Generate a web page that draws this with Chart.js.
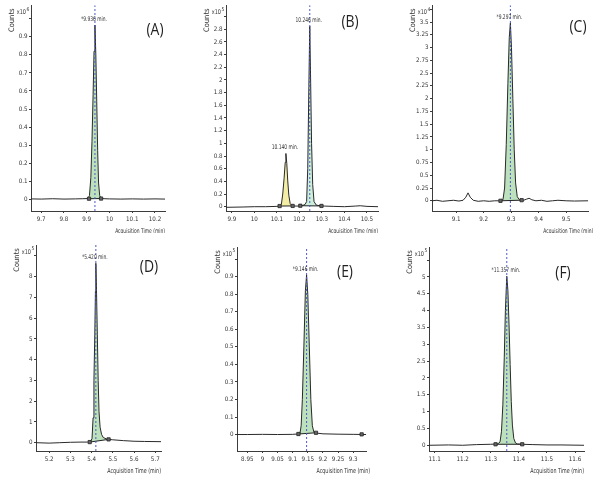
<!DOCTYPE html>
<html>
<head>
<meta charset="utf-8">
<title>Chromatograms</title>
<script src="https://cdn.jsdelivr.net/npm/chart.js@4.4.1/dist/chart.umd.min.js"></script>
<style>
  html, body { margin: 0; padding: 0; background: #fff; }
  #figure { position: relative; width: 601px; height: 484px; overflow: hidden; background: #fff; }
  #figure canvas { position: absolute; }
</style>
</head>
<body>
<div id="figure">
  <canvas id="panelA"></canvas>
  <canvas id="panelB"></canvas>
  <canvas id="panelC"></canvas>
  <canvas id="panelD"></canvas>
  <canvas id="panelE"></canvas>
  <canvas id="panelF"></canvas>
</div>
<script>
// ---- (A) ----
const timesA = [9.655, 9.70, 9.75, 9.80, 9.85, 9.88, 9.905, 9.912, 9.918, 9.923, 9.928, 9.932, 9.936, 9.940, 9.944, 9.948, 9.952, 9.957, 9.963, 9.98, 10.0, 10.05, 10.1, 10.15, 10.2, 10.244];
const countsA = [0.002, 0.001, 0.003, 0.001, 0.002, 0.003, 0.004, 0.02, 0.12, 0.32, 0.58, 0.82, 0.965, 0.80, 0.54, 0.27, 0.09, 0.02, 0.004, 0.003, 0.002, 0.001, 0.002, 0.001, 0.002, 0.001];
const markerTimesA = [9.91, 9.963];
const markerCountsA = [0.003, 0.004];
const xTicksA = [9.7, 9.8, 9.9, 10, 10.1, 10.2];
const yTicksA = [0, 0.1, 0.2, 0.3, 0.4, 0.5, 0.6, 0.7, 0.8, 0.9, 1];

// ---- (B) ----
const timesB = [9.874, 9.95, 10.0, 10.05, 10.1, 10.112, 10.12, 10.126, 10.132, 10.137, 10.140, 10.144, 10.148, 10.153, 10.159, 10.167, 10.18, 10.2, 10.215, 10.225, 10.232, 10.237, 10.242, 10.246, 10.250, 10.254, 10.259, 10.265, 10.275, 10.29, 10.31, 10.35, 10.4, 10.45, 10.47, 10.5, 10.549];
const countsB = [-0.01, -0.005, 0.0, 0.0, 0.005, 0.01, 0.04, 0.2, 0.45, 0.7, 0.84, 0.68, 0.42, 0.18, 0.05, 0.015, 0.01, 0.01, 0.02, 0.035, 0.08, 0.6, 1.9, 2.85, 1.95, 1.0, 0.35, 0.08, 0.025, 0.015, 0.01, 0.005, 0.0, 0.01, 0.015, 0.005, 0.0];
const markerTimesB = [10.112, 10.17, 10.204, 10.298];
const markerCountsB = [0.01, 0.012, 0.015, 0.012];
const xTicksB = [9.9, 10, 10.1, 10.2, 10.3, 10.4, 10.5];
const yTicksB = [0, 0.2, 0.4, 0.6, 0.8, 1, 1.2, 1.4, 1.6, 1.8, 2, 2.2, 2.4, 2.6, 2.8, 3];

// ---- (C) ----
const timesC = [9.012, 9.03, 9.05, 9.07, 9.09, 9.11, 9.125, 9.135, 9.143, 9.151, 9.162, 9.18, 9.2, 9.22, 9.24, 9.255, 9.27, 9.276, 9.282, 9.288, 9.293, 9.297, 9.301, 9.306, 9.311, 9.316, 9.322, 9.33, 9.345, 9.355, 9.365, 9.375, 9.39, 9.41, 9.43, 9.45, 9.47, 9.5, 9.53, 9.58];
const countsC = [0.0, 0.01, -0.01, 0.0, 0.01, -0.005, 0.01, 0.07, 0.155, 0.07, 0.01, -0.01, 0.0, -0.01, 0.0, 0.0, 0.02, 0.25, 1.1, 2.3, 3.2, 3.48, 3.0, 2.0, 1.0, 0.35, 0.08, 0.02, 0.01, 0.03, 0.05, 0.02, 0.0, 0.01, -0.01, 0.0, 0.01, 0.0, -0.005, 0.0];
const markerTimesC = [9.261, 9.338];
const markerCountsC = [0.0, 0.012];
const xTicksC = [9.1, 9.2, 9.3, 9.4, 9.5];
const yTicksC = [0, 0.25, 0.5, 0.75, 1, 1.25, 1.5, 1.75, 2, 2.25, 2.5, 2.75, 3, 3.25, 3.5, 3.75];

// ---- (D) ----
const timesD = [5.138, 5.2, 5.25, 5.3, 5.35, 5.38, 5.395, 5.402, 5.407, 5.411, 5.415, 5.418, 5.420, 5.423, 5.427, 5.431, 5.435, 5.44, 5.447, 5.455, 5.47, 5.48, 5.5, 5.55, 5.6, 5.65, 5.727];
const countsD = [0.0, -0.02, 0.0, 0.02, 0.03, 0.03, 0.06, 0.2, 1.2, 3.0, 5.2, 7.3, 8.65, 7.4, 5.2, 3.0, 1.5, 0.75, 0.4, 0.25, 0.18, 0.16, 0.14, 0.1, 0.07, 0.06, 0.05];
const markerTimesD = [5.391, 5.48];
const markerCountsD = [0.03, 0.16];
const xTicksD = [5.2, 5.3, 5.4, 5.5, 5.6, 5.7];
const yTicksD = [0, 1, 2, 3, 4, 5, 6, 7, 8, 9];

// ---- (E) ----
const timesE = [8.916, 8.95, 9.0, 9.05, 9.1, 9.115, 9.124, 9.128, 9.132, 9.137, 9.142, 9.146, 9.150, 9.155, 9.160, 9.165, 9.170, 9.18, 9.2, 9.25, 9.3, 9.343];
const countsE = [0.0, 0.0, 0.001, 0.0, 0.001, 0.003, 0.005, 0.05, 0.2, 0.5, 0.82, 0.91, 0.8, 0.5, 0.2, 0.05, 0.015, 0.008, 0.004, 0.002, 0.001, 0.0];
const markerTimesE = [9.119, 9.177, 9.328];
const markerCountsE = [0.003, 0.01, 0.001];
const xTicksE = [8.95, 9, 9.05, 9.1, 9.15, 9.2, 9.25, 9.3];
const yTicksE = [0, 0.1, 0.2, 0.3, 0.4, 0.5, 0.6, 0.7, 0.8, 0.9, 1];

// ---- (F) ----
const timesF = [11.08, 11.15, 11.2, 11.25, 11.3, 11.325, 11.333, 11.338, 11.343, 11.348, 11.352, 11.357, 11.361, 11.365, 11.369, 11.373, 11.377, 11.382, 11.388, 11.395, 11.41, 11.45, 11.5, 11.55, 11.632];
const countsF = [0.0, 0.01, 0.0, 0.02, 0.03, 0.04, 0.1, 0.4, 1.2, 2.6, 4.0, 5.02, 4.6, 3.6, 2.4, 1.3, 0.6, 0.2, 0.07, 0.04, 0.03, 0.02, 0.01, 0.01, 0.0];
const markerTimesF = [11.317, 11.412];
const markerCountsF = [0.03, 0.03];
const xTicksF = [11.1, 11.2, 11.3, 11.4, 11.5, 11.6];
const yTicksF = [0, 0.5, 1, 1.5, 2, 2.5, 3, 3.5, 4, 4.5, 5, 5.5];

const narrowFont = "'Liberation Sans Narrow', 'DejaVu Sans Condensed', sans-serif";
const axisColor = "#3c3c3c";
const traceColor = "#2a2a2a";
const textColor = "#333";
const greenFill = "rgba(160, 212, 160, 0.7)";
const paleGreenFill = "rgba(200, 236, 214, 0.9)";
const yellowFill = "rgba(243, 236, 160, 0.95)";
const rtLineColor = "#4b5cc4";

// squeezes text horizontally so the small annotations stay as narrow as the axis labels
function squeezedText(ctx, text, x, y, sx) {
  ctx.save();
  ctx.translate(x, y);
  ctx.scale(sx, 1);
  ctx.fillText(text, 0, 0);
  ctx.restore();
}

// text around each plot: peak labels, axis titles, the panel letter
const panelDecor = {
  id: "panelDecor",
  afterDraw(chart, args, opts) {
    const { ctx, chartArea, scales } = chart;
    ctx.save();
    ctx.fillStyle = textColor;
    ctx.textBaseline = "middle";

    ctx.font = `6.5px ${narrowFont}`;
    ctx.textAlign = "center";
    opts.labels.forEach((l) => {
      const x = scales.x.getPixelForValue(l.time) - 1;
      const y = scales.y.getPixelForValue(l.count) - 6;
      squeezedText(ctx, l.text, x, y, 0.75);
    });

    ctx.save();
    ctx.translate(chartArea.left - 19, chartArea.top + 15);
    ctx.rotate(-Math.PI / 2);
    ctx.font = `7.5px ${narrowFont}`;
    ctx.fillText("Counts", 0, 0);
    ctx.restore();

    ctx.textAlign = "right";
    ctx.font = `6.5px ${narrowFont}`;
    squeezedText(ctx, "x10", chartArea.left - 5, chartArea.top + 7, 0.85);
    ctx.textAlign = "left";
    ctx.font = `5px ${narrowFont}`;
    ctx.fillText(opts.exponent, chartArea.left - 4.5, chartArea.top + 4);

    ctx.textAlign = "right";
    ctx.font = `${opts.titleSize}px ${narrowFont}`;
    squeezedText(ctx, "Acquisition Time (min)", chartArea.right + opts.titleShift, chartArea.bottom + 20, 0.76);

    ctx.textAlign = "center";
    ctx.font = "17px 'Open Sans', sans-serif";
    ctx.fillStyle = "#222";
    squeezedText(ctx, opts.tag, opts.tagX, opts.tagY, 0.82);
    ctx.restore();
  },
};

function buildPanel(id, p) {
  const canvas = document.getElementById(id);
  canvas.width = p.cell.w;
  canvas.height = p.cell.h;
  canvas.style.left = p.cell.x + "px";
  canvas.style.top = p.cell.y + "px";
  canvas.style.width = p.cell.w + "px";
  canvas.style.height = p.cell.h + "px";

  const trace = p.times.map((t, i) => ({ x: t, y: p.counts[i] }));
  const markers = p.markerTimes.map((t, i) => ({ x: t, y: p.markerCounts[i] }));

  const datasets = [
    { data: trace, borderColor: traceColor, borderWidth: 1, fill: false, order: 2 },
    {
      data: markers, showLine: false, pointStyle: "rect", pointRadius: 2.3,
      pointBackgroundColor: "#666", pointBorderColor: "#222", pointBorderWidth: 0.8, order: 0,
    },
  ];
  p.rtLines.forEach((rt) => {
    datasets.push({
      data: [{ x: rt, y: p.yRange[0] }, { x: rt, y: p.yRange[1] }],
      borderColor: rtLineColor, borderWidth: 1, borderDash: [2, 2], fill: false, order: 1,
    });
  });
  p.peaks.forEach((pk) => {
    const a = markers[pk.from];
    const b = markers[pk.to];
    const baseIndex = datasets.length;
    datasets.push({ data: [a, b], borderColor: "#222", borderWidth: 1, fill: false, order: 3 });
    const inner = trace.filter((pt) => pt.x > a.x && pt.x < b.x);
    datasets.push({
      data: [a, ...inner, b], borderWidth: 0, borderColor: "rgba(0,0,0,0)",
      backgroundColor: pk.color, fill: baseIndex, order: 4,
    });
  });

  const areaLeft = p.area.left - p.cell.x;
  const areaTop = p.area.top - p.cell.y;
  const areaRight = p.area.right - p.cell.x;
  const areaBottom = p.area.bottom - p.cell.y;

  new Chart(canvas, {
    type: "line",
    data: { datasets },
    options: {
      responsive: false,
      animation: false,
      devicePixelRatio: 1,
      layout: { padding: { left: 0, top: areaTop, right: p.cell.w - areaRight, bottom: 0 } },
      elements: { point: { radius: 0 }, line: { tension: 0 } },
      plugins: {
        legend: { display: false },
        tooltip: { enabled: false },
        panelDecor: {
          labels: p.labels, exponent: p.exponent, tag: p.tag, tagX: p.tagX, tagY: p.tagY,
          titleShift: p.titleShift, titleSize: p.titleSize,
        },
      },
      scales: {
        x: {
          type: "linear",
          min: p.xRange[0],
          max: p.xRange[1],
          afterFit: (s) => { s.height = p.cell.h - areaBottom; },
          afterBuildTicks: (s) => { s.ticks = p.xTicks.map((v) => ({ value: v })); },
          grid: { drawOnChartArea: false, drawTicks: true, tickLength: 2, color: axisColor },
          border: { color: axisColor, width: 1 },
          ticks: {
            autoSkip: false, maxRotation: 0, padding: 3, color: textColor,
            font: { family: narrowFont, size: 6.2 },
            callback: (v) => String(v),
          },
        },
        y: {
          type: "linear",
          min: p.yRange[0],
          max: p.yRange[1],
          afterFit: (s) => { s.width = areaLeft; },
          afterBuildTicks: (s) => { s.ticks = p.yTicks.map((v) => ({ value: v })); },
          grid: { drawOnChartArea: false, drawTicks: true, tickLength: 2, color: axisColor },
          border: { color: axisColor, width: 1 },
          ticks: {
            autoSkip: false, padding: 1.5, color: textColor,
            font: { family: narrowFont, size: 6.2 },
            // the top tick carries no number; the exponent sits beside it
            callback: (v) => (v === p.yTicks[p.yTicks.length - 1] ? "" : String(v)),
          },
        },
      },
    },
    plugins: [panelDecor],
  });
}

buildPanel("panelA", {
  cell: { x: 0, y: 0, w: 195, h: 233 },
  area: { left: 31, top: 5, right: 165, bottom: 211 },
  xRange: [9.655, 10.244], yRange: [-0.065, 1.075],
  times: timesA, counts: countsA, markerTimes: markerTimesA, markerCounts: markerCountsA,
  xTicks: xTicksA, yTicks: yTicksA,
  rtLines: [9.936],
  peaks: [{ from: 0, to: 1, color: greenFill }],
  labels: [{ time: 9.936, count: 0.965, text: "*9.936 min." }],
  exponent: "6", tag: "(A)", tagX: 155, tagY: 30, titleShift: 0, titleSize: 6.5,
});

buildPanel("panelB", {
  cell: { x: 195, y: 0, w: 195, h: 233 },
  area: { left: 226, top: 5, right: 378, bottom: 211 },
  xRange: [9.874, 10.549], yRange: [-0.068, 3.18],
  times: timesB, counts: countsB, markerTimes: markerTimesB, markerCounts: markerCountsB,
  xTicks: xTicksB, yTicks: yTicksB,
  rtLines: [10.246],
  peaks: [{ from: 0, to: 1, color: yellowFill }, { from: 2, to: 3, color: paleGreenFill }],
  labels: [
    { time: 10.246, count: 2.85, text: "10.246 min." },
    { time: 10.140, count: 0.84, text: "10.140 min." },
  ],
  exponent: "5", tag: "(B)", tagX: 155, tagY: 22, titleShift: 0, titleSize: 6.5,
});

buildPanel("panelC", {
  cell: { x: 390, y: 0, w: 203, h: 233 },
  area: { left: 432, top: 3, right: 593, bottom: 211 },
  xRange: [9.012, 9.58], yRange: [-0.2, 3.83],
  times: timesC, counts: countsC, markerTimes: markerTimesC, markerCounts: markerCountsC,
  xTicks: xTicksC, yTicks: yTicksC,
  rtLines: [9.297],
  peaks: [{ from: 0, to: 1, color: greenFill }],
  labels: [{ time: 9.297, count: 3.48, text: "*9.297 min." }],
  exponent: "4", tag: "(C)", tagX: 188, tagY: 27, titleShift: 5, titleSize: 6.5,
});

buildPanel("panelD", {
  cell: { x: 0, y: 233, w: 195, h: 251 },
  area: { left: 36, top: 245, right: 161, bottom: 451 },
  xRange: [5.138, 5.727], yRange: [-0.4, 9.53],
  times: timesD, counts: countsD, markerTimes: markerTimesD, markerCounts: markerCountsD,
  xTicks: xTicksD, yTicks: yTicksD,
  rtLines: [5.42],
  peaks: [{ from: 0, to: 1, color: greenFill }],
  labels: [{ time: 5.42, count: 8.65, text: "*5.420 min." }],
  exponent: "5", tag: "(D)", tagX: 149, tagY: 34, titleShift: 0, titleSize: 7,
});

buildPanel("panelE", {
  cell: { x: 195, y: 233, w: 176, h: 251 },
  area: { left: 237, top: 247, right: 371, bottom: 451 },
  xRange: [8.916, 9.343], yRange: [-0.094, 1.07],
  times: timesE, counts: countsE, markerTimes: markerTimesE, markerCounts: markerCountsE,
  xTicks: xTicksE, yTicks: yTicksE,
  rtLines: [9.146],
  peaks: [{ from: 0, to: 1, color: greenFill }],
  labels: [{ time: 9.146, count: 0.91, text: "*9.146 min." }],
  exponent: "5", tag: "(E)", tagX: 150, tagY: 39, titleShift: 4, titleSize: 7,
});

buildPanel("panelF", {
  cell: { x: 390, y: 233, w: 211, h: 251 },
  area: { left: 429, top: 247, right: 584, bottom: 451 },
  xRange: [11.08, 11.632], yRange: [-0.17, 5.89],
  times: timesF, counts: countsF, markerTimes: markerTimesF, markerCounts: markerCountsF,
  xTicks: xTicksF, yTicks: yTicksF,
  rtLines: [11.357],
  peaks: [{ from: 0, to: 1, color: greenFill }],
  labels: [{ time: 11.357, count: 5.02, text: "*11.357 min." }],
  exponent: "5", tag: "(F)", tagX: 173, tagY: 40, titleShift: 0, titleSize: 7,
});
</script>
</body>
</html>
